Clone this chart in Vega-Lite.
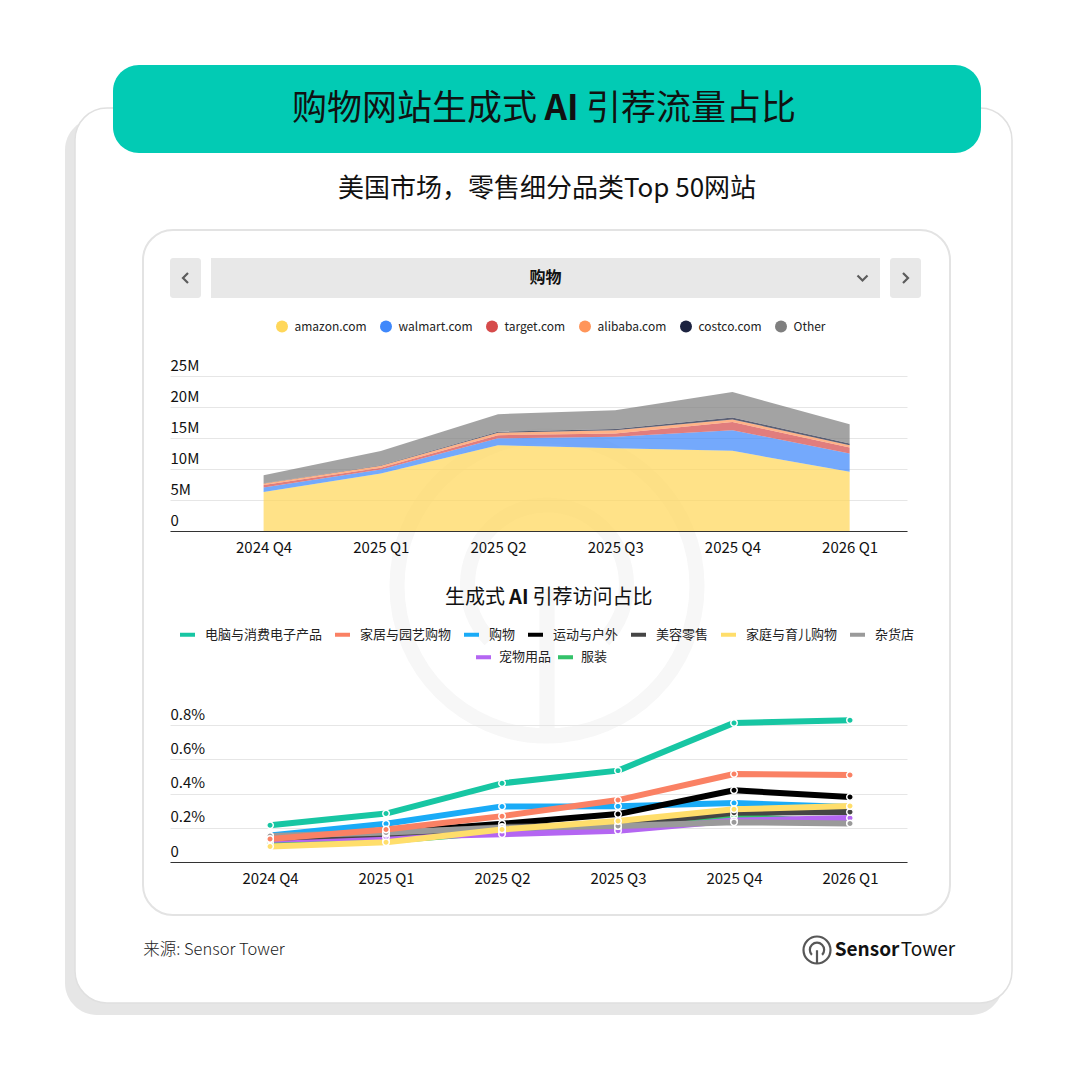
{
  "$schema": "https://vega.github.io/schema/vega-lite/v6.json",
  "background": "white",
  "padding": {"left": 65, "top": 65, "right": 0, "bottom": 0},
  "spacing": 0,
  "bounds": "flush",
  "config": {
    "font": "Noto Sans CJK SC",
    "view": {"stroke": null},
    "axis": {"labelFont": "Noto Sans CJK SC", "labelColor": "#111", "title": null},
    "legend": {"labelFont": "Noto Sans CJK SC", "labelColor": "#222"}
  },
  "datasets": {
    "sites": [
      {"q": "2024 Q4", "site": "amazon.com", "v": 6.3},
      {"q": "2024 Q4", "site": "walmart.com", "v": 0.7},
      {"q": "2024 Q4", "site": "target.com", "v": 0.4},
      {"q": "2024 Q4", "site": "alibaba.com", "v": 0.25},
      {"q": "2024 Q4", "site": "costco.com", "v": 0.05},
      {"q": "2024 Q4", "site": "Other", "v": 1.3},
      {"q": "2025 Q1", "site": "amazon.com", "v": 9.27},
      {"q": "2025 Q1", "site": "walmart.com", "v": 0.65},
      {"q": "2025 Q1", "site": "target.com", "v": 0.3},
      {"q": "2025 Q1", "site": "alibaba.com", "v": 0.3},
      {"q": "2025 Q1", "site": "costco.com", "v": 0.1},
      {"q": "2025 Q1", "site": "Other", "v": 2.3},
      {"q": "2025 Q2", "site": "amazon.com", "v": 13.85},
      {"q": "2025 Q2", "site": "walmart.com", "v": 1.1},
      {"q": "2025 Q2", "site": "target.com", "v": 0.5},
      {"q": "2025 Q2", "site": "alibaba.com", "v": 0.4},
      {"q": "2025 Q2", "site": "costco.com", "v": 0.15},
      {"q": "2025 Q2", "site": "Other", "v": 2.85},
      {"q": "2025 Q3", "site": "amazon.com", "v": 13.36},
      {"q": "2025 Q3", "site": "walmart.com", "v": 1.83},
      {"q": "2025 Q3", "site": "target.com", "v": 0.54},
      {"q": "2025 Q3", "site": "alibaba.com", "v": 0.54},
      {"q": "2025 Q3", "site": "costco.com", "v": 0.2},
      {"q": "2025 Q3", "site": "Other", "v": 3.0},
      {"q": "2025 Q4", "site": "amazon.com", "v": 12.93},
      {"q": "2025 Q4", "site": "walmart.com", "v": 3.34},
      {"q": "2025 Q4", "site": "target.com", "v": 1.3},
      {"q": "2025 Q4", "site": "alibaba.com", "v": 0.43},
      {"q": "2025 Q4", "site": "costco.com", "v": 0.3},
      {"q": "2025 Q4", "site": "Other", "v": 4.1},
      {"q": "2026 Q1", "site": "amazon.com", "v": 9.54},
      {"q": "2026 Q1", "site": "walmart.com", "v": 2.96},
      {"q": "2026 Q1", "site": "target.com", "v": 0.97},
      {"q": "2026 Q1", "site": "alibaba.com", "v": 0.38},
      {"q": "2026 Q1", "site": "costco.com", "v": 0.27},
      {"q": "2026 Q1", "site": "Other", "v": 3.1}
    ],
    "cats": [
      {"q": "2024 Q4", "cat": "服装", "p": 0.112},
      {"q": "2024 Q4", "cat": "宠物用品", "p": 0.13},
      {"q": "2024 Q4", "cat": "购物", "p": 0.155},
      {"q": "2024 Q4", "cat": "运动与户外", "p": 0.145},
      {"q": "2024 Q4", "cat": "美容零售", "p": 0.14},
      {"q": "2024 Q4", "cat": "杂货店", "p": 0.152},
      {"q": "2024 Q4", "cat": "家庭与育儿购物", "p": 0.09},
      {"q": "2024 Q4", "cat": "家居与园艺购物", "p": 0.135},
      {"q": "2024 Q4", "cat": "电脑与消费电子产品", "p": 0.215},
      {"q": "2025 Q1", "cat": "服装", "p": 0.123},
      {"q": "2025 Q1", "cat": "宠物用品", "p": 0.146},
      {"q": "2025 Q1", "cat": "购物", "p": 0.224},
      {"q": "2025 Q1", "cat": "运动与户外", "p": 0.172},
      {"q": "2025 Q1", "cat": "美容零售", "p": 0.165},
      {"q": "2025 Q1", "cat": "杂货店", "p": 0.172},
      {"q": "2025 Q1", "cat": "家庭与育儿购物", "p": 0.115},
      {"q": "2025 Q1", "cat": "家居与园艺购物", "p": 0.19},
      {"q": "2025 Q1", "cat": "电脑与消费电子产品", "p": 0.283},
      {"q": "2025 Q2", "cat": "服装", "p": 0.176},
      {"q": "2025 Q2", "cat": "宠物用品", "p": 0.162},
      {"q": "2025 Q2", "cat": "购物", "p": 0.325},
      {"q": "2025 Q2", "cat": "运动与户外", "p": 0.224},
      {"q": "2025 Q2", "cat": "美容零售", "p": 0.205},
      {"q": "2025 Q2", "cat": "杂货店", "p": 0.2},
      {"q": "2025 Q2", "cat": "家庭与育儿购物", "p": 0.19},
      {"q": "2025 Q2", "cat": "家居与园艺购物", "p": 0.268},
      {"q": "2025 Q2", "cat": "电脑与消费电子产品", "p": 0.46},
      {"q": "2025 Q3", "cat": "服装", "p": 0.2},
      {"q": "2025 Q3", "cat": "宠物用品", "p": 0.182},
      {"q": "2025 Q3", "cat": "购物", "p": 0.326},
      {"q": "2025 Q3", "cat": "运动与户外", "p": 0.28},
      {"q": "2025 Q3", "cat": "美容零售", "p": 0.215},
      {"q": "2025 Q3", "cat": "杂货店", "p": 0.21},
      {"q": "2025 Q3", "cat": "家庭与育儿购物", "p": 0.24},
      {"q": "2025 Q3", "cat": "家居与园艺购物", "p": 0.362},
      {"q": "2025 Q3", "cat": "电脑与消费电子产品", "p": 0.534},
      {"q": "2025 Q4", "cat": "服装", "p": 0.269},
      {"q": "2025 Q4", "cat": "宠物用品", "p": 0.242},
      {"q": "2025 Q4", "cat": "购物", "p": 0.345},
      {"q": "2025 Q4", "cat": "运动与户外", "p": 0.419},
      {"q": "2025 Q4", "cat": "美容零售", "p": 0.288},
      {"q": "2025 Q4", "cat": "杂货店", "p": 0.232},
      {"q": "2025 Q4", "cat": "家庭与育儿购物", "p": 0.308},
      {"q": "2025 Q4", "cat": "家居与园艺购物", "p": 0.514},
      {"q": "2025 Q4", "cat": "电脑与消费电子产品", "p": 0.813},
      {"q": "2026 Q1", "cat": "服装", "p": 0.228},
      {"q": "2026 Q1", "cat": "宠物用品", "p": 0.257},
      {"q": "2026 Q1", "cat": "购物", "p": 0.322},
      {"q": "2026 Q1", "cat": "运动与户外", "p": 0.38},
      {"q": "2026 Q1", "cat": "美容零售", "p": 0.292},
      {"q": "2026 Q1", "cat": "杂货店", "p": 0.225},
      {"q": "2026 Q1", "cat": "家庭与育儿购物", "p": 0.327},
      {"q": "2026 Q1", "cat": "家居与园艺购物", "p": 0.508},
      {"q": "2026 Q1", "cat": "电脑与消费电子产品", "p": 0.829}
    ]
  },
  "vconcat": [
    {
      "spacing": 0,
      "bounds": "flush",
      "vconcat": [
        {"width": 1, "height": 53, "data": {"values": []}, "mark": "point"},
        {
          "width": 938,
          "height": 897,
          "view": {"fill": "#E6E6E6", "cornerRadius": 32},
          "data": {"values": []},
          "mark": "point"
        }
      ]
    },
    {
      "spacing": 0,
      "bounds": "flush",
      "vconcat": [
        {"width": 1, "height": 43, "data": {"values": []}, "mark": "point"},
        {
          "spacing": 0,
          "bounds": "flush",
          "hconcat": [
            {"width": 10, "height": 1, "data": {"values": []}, "mark": "point"},
            {
              "width": 937,
              "height": 895,
              "view": {"fill": "#FFFFFF", "stroke": "#E0E0E0", "strokeWidth": 1.5, "cornerRadius": 32},
              "data": {"values": []},
              "mark": "point"
            }
          ]
        }
      ]
    },
    {
      "spacing": 0,
      "bounds": "flush",
      "vconcat": [
        {"width": 1, "height": 165, "data": {"values": []}, "mark": "point"},
        {
          "spacing": 0,
          "bounds": "flush",
          "hconcat": [
            {"width": 78, "height": 1, "data": {"values": []}, "mark": "point"},
            {
              "width": 807,
              "height": 685,
              "view": {"fill": "#FFFFFF", "stroke": "#E3E3E3", "strokeWidth": 2, "cornerRadius": 30},
              "data": {"values": []},
              "mark": "point"
            }
          ]
        }
      ]
    },
    {
      "spacing": 0,
      "bounds": "flush",
      "vconcat": [
        {"width": 1, "height": 351, "data": {"values": []}, "mark": "point"},
        {
          "spacing": 0,
          "bounds": "flush",
          "hconcat": [
            {"width": 312, "height": 1, "data": {"values": []}, "mark": "point"},
            {
              "width": 340,
              "height": 340,
              "data": {"values": [{"k": "watermark"}]},
              "mark": {
                "type": "point",
                "shape": "M-1,0A1,1 0 1,1 1,0A1,1 0 1,1 -1,0M-0.38,0.36A0.53,0.53 0 1,1 0.38,0.36M0,0.02V1",
                "size": 90000,
                "filled": false,
                "strokeWidth": 15,
                "color": "#F4F4F4"
              }
            }
          ]
        }
      ]
    },
    {
      "spacing": 0,
      "bounds": "flush",
      "hconcat": [
        {"width": 48, "height": 1, "data": {"values": []}, "mark": "point"},
        {
          "width": 868,
          "height": 88,
          "view": {"fill": "#02CBB4", "cornerRadius": 26, "stroke": null},
          "data": {"values": [{"k": "title"}]},
          "layer": [
            {"mark": {"type": "text", "text": "购物网站生成式", "align": "right", "dx": -10, "fontSize": 35, "color": "#111"}},
            {"mark": {"type": "text", "text": "AI", "align": "center", "dx": 14.5, "fontSize": 35, "fontWeight": "bold", "color": "#111"}},
            {"mark": {"type": "text", "text": "引荐流量占比", "align": "left", "dx": 39, "fontSize": 35, "color": "#111"}}
          ]
        }
      ]
    },
    {"width": 1, "height": 88, "data": {"values": []}, "mark": "point"},
    {
      "spacing": 0,
      "bounds": "flush",
      "hconcat": [
        {"width": 48, "height": 1, "data": {"values": []}, "mark": "point"},
        {
          "width": 868,
          "height": 105,
          "data": {"values": [{"t": "美国市场，零售细分品类Top 50网站"}]},
          "mark": {"type": "text", "fontSize": 26, "dy": -17, "color": "#111"},
          "encoding": {"text": {"field": "t"}}
        }
      ]
    },
    {"width": 1, "height": 105, "data": {"values": []}, "mark": "point"},
    {
      "spacing": 0,
      "bounds": "flush",
      "hconcat": [
        {"width": 105, "height": 40, "data": {"values": []}, "mark": "point"},
        {
          "width": 31,
          "height": 40,
          "view": {"fill": "#E8E8E8", "cornerRadius": 3},
          "data": {"values": [{"k": "prev"}]},
          "mark": {"type": "point", "shape": "M0.5,-1L-0.5,0L0.5,1", "size": 100, "filled": false, "strokeWidth": 2.2, "color": "#222"}
        },
        {"width": 10, "height": 40, "data": {"values": []}, "mark": "point"},
        {
          "width": 634,
          "height": 40,
          "view": {"fill": "#E8E8E8"},
          "data": {"values": [{"t": "购物"}]},
          "mark": {"type": "text", "fontSize": 16, "fontWeight": "bold", "dx": 17.5, "color": "#111"},
          "encoding": {"text": {"field": "t"}}
        },
        {
          "width": 35,
          "height": 40,
          "view": {"fill": "#E8E8E8"},
          "data": {"values": [{"k": "open"}]},
          "mark": {"type": "point", "shape": "M-1,-0.5L0,0.5L1,-0.5", "size": 100, "filled": false, "strokeWidth": 2.2, "color": "#222"}
        },
        {"width": 10, "height": 40, "data": {"values": []}, "mark": "point"},
        {
          "width": 31,
          "height": 40,
          "view": {"fill": "#E8E8E8", "cornerRadius": 3},
          "data": {"values": [{"k": "next"}]},
          "mark": {"type": "point", "shape": "M-0.5,-1L0.5,0L-0.5,1", "size": 100, "filled": false, "strokeWidth": 2.2, "color": "#222"}
        }
      ]
    },
    {"width": 1, "height": 118, "data": {"values": []}, "mark": "point"},
    {
      "spacing": 0,
      "bounds": "flush",
      "hconcat": [
        {"width": 105, "height": 1, "data": {"values": []}, "mark": "point"},
        {
          "width": 737,
          "height": 155,
          "data": {"name": "sites"},
          "transform": [
            {"calculate": "indexof(['amazon.com','walmart.com','target.com','alibaba.com','costco.com','Other'], datum.site)", "as": "k"}
          ],
          "mark": {"type": "area", "opacity": 0.72, "interpolate": "linear"},
          "encoding": {
            "x": {
              "field": "q",
              "type": "ordinal",
              "scale": {"type": "point", "padding": 0.644, "align": 0.62},
              "axis": {"labelAngle": 0, "ticks": false, "domainColor": "#333", "labelFontSize": 15, "labelPadding": 9, "grid": false}
            },
            "y": {
              "field": "v",
              "type": "quantitative",
              "stack": "zero",
              "scale": {"domain": [0, 25], "nice": false},
              "axis": {
                "values": [0, 5, 10, 15, 20, 25],
                "labelExpr": "datum.value == 0 ? '0' : datum.value + 'M'",
                "domain": false,
                "ticks": false,
                "labelAlign": "left",
                "labelBaseline": "bottom",
                "labelPadding": 0,
                "labelOffset": -3,
                "labelFontSize": 15,
                "gridColor": "#E6E6E6"
              }
            },
            "order": {"field": "k", "type": "quantitative"},
            "color": {
              "field": "site",
              "type": "nominal",
              "scale": {
                "domain": ["amazon.com", "walmart.com", "target.com", "alibaba.com", "costco.com", "Other"],
                "range": ["#FFD75A", "#3F88FB", "#D64B4B", "#FF955A", "#1C2340", "#7F7F7F"]
              },
              "legend": {
                "title": null,
                "orient": "none",
                "direction": "horizontal",
                "legendX": 210,
                "legendY": 254.5,
                "symbolType": "circle",
                "symbolSize": 144,
                "symbolOpacity": 1,
                "labelFontSize": 12,
                "labelOffset": 5.5,
                "columnPadding": 12
              }
            }
          }
        }
      ]
    },
    {"width": 1, "height": 155, "data": {"values": []}, "mark": "point"},
    {
      "spacing": 0,
      "bounds": "flush",
      "hconcat": [
        {"width": 48, "height": 1, "data": {"values": []}, "mark": "point"},
        {
          "width": 868,
          "height": 177,
          "data": {"values": [{"k": "subtitle"}]},
          "layer": [
            {"mark": {"type": "text", "text": "生成式", "align": "right", "dx": -42, "dy": -21.5, "fontSize": 20, "color": "#111"}},
            {"mark": {"type": "text", "text": "AI", "align": "center", "dx": -28.2, "dy": -21.5, "fontSize": 20, "fontWeight": "bold", "color": "#111"}},
            {"mark": {"type": "text", "text": "引荐访问占比", "align": "left", "dx": -14.4, "dy": -21.5, "fontSize": 20, "color": "#111"}}
          ]
        }
      ]
    },
    {"width": 1, "height": 177, "data": {"values": []}, "mark": "point"},
    {
      "spacing": 0,
      "bounds": "flush",
      "hconcat": [
        {"width": 105, "height": 1, "data": {"values": []}, "mark": "point"},
        {
          "width": 737,
          "height": 154,
          "data": {"name": "cats"},
          "encoding": {
            "x": {
              "field": "q",
              "type": "ordinal",
              "scale": {"type": "point", "padding": 0.677, "align": 0.637},
              "axis": {"labelAngle": 0, "ticks": false, "domainColor": "#333", "labelFontSize": 15, "labelPadding": 9, "grid": false}
            },
            "y": {
              "field": "p",
              "type": "quantitative",
              "scale": {"domain": [0, 0.9], "nice": false},
              "axis": {
                "values": [0, 0.2, 0.4, 0.6, 0.8],
                "labelExpr": "datum.value == 0 ? '0' : format(datum.value, '.1f') + '%'",
                "domain": false,
                "ticks": false,
                "labelAlign": "left",
                "labelBaseline": "bottom",
                "labelPadding": 0,
                "labelOffset": -3,
                "labelFontSize": 15,
                "gridColor": "#E6E6E6"
              }
            }
          },
          "layer": [
            {
              "mark": {"type": "line", "strokeWidth": 6, "strokeJoin": "round"},
              "encoding": {
                "stroke": {
                  "field": "cat",
                  "type": "nominal",
                  "scale": {
                    "domain": ["电脑与消费电子产品", "家居与园艺购物", "购物", "运动与户外", "美容零售", "家庭与育儿购物", "杂货店", "宠物用品", "服装"],
                    "range": ["#17C6A3", "#FA8164", "#1AABF7", "#000000", "#454545", "#FFDE6B", "#9A9A9A", "#B466F2", "#34C26A"]
                  },
                  "legend": {
                    "values": ["电脑与消费电子产品", "家居与园艺购物", "购物", "运动与户外", "美容零售", "家庭与育儿购物", "杂货店"],
                    "title": null,
                    "orient": "none",
                    "direction": "horizontal",
                    "legendX": 113,
                    "legendY": 560,
                    "symbolType": "stroke",
                    "symbolSize": 225,
                    "symbolStrokeWidth": 4,
                    "labelFontSize": 13,
                    "labelOffset": 8,
                    "columnPadding": 4
                  }
                }
              }
            },
            {
              "mark": {"type": "point", "filled": true, "size": 42, "stroke": "white", "strokeWidth": 1.5, "opacity": 1},
              "encoding": {
                "fill": {
                  "field": "cat",
                  "type": "nominal",
                  "scale": {
                    "domain": ["宠物用品", "服装", "电脑与消费电子产品", "家居与园艺购物", "购物", "运动与户外", "美容零售", "家庭与育儿购物", "杂货店"],
                    "range": ["#B466F2", "#34C26A", "#17C6A3", "#FA8164", "#1AABF7", "#000000", "#454545", "#FFDE6B", "#9A9A9A"]
                  },
                  "legend": {
                    "values": ["宠物用品", "服装"],
                    "title": null,
                    "orient": "none",
                    "direction": "horizontal",
                    "legendX": 411,
                    "legendY": 584.5,
                    "symbolType": "M-1,-0.27H1V0.27H-1Z",
                    "symbolSize": 225,
                    "symbolStrokeWidth": 0,
                    "labelFontSize": 13,
                    "labelOffset": 8,
                    "columnPadding": 6
                  }
                }
              }
            }
          ]
        }
      ]
    },
    {"width": 1, "height": 222, "data": {"values": []}, "mark": "point"},
    {
      "spacing": 0,
      "bounds": "flush",
      "hconcat": [
        {"width": 78, "height": 40, "data": {"values": []}, "mark": "point"},
        {
          "width": 142,
          "height": 40,
          "data": {"values": [{"t": "来源: Sensor Tower"}]},
          "mark": {"type": "text", "fontSize": 16.5, "fontWeight": 300, "color": "#222"},
          "encoding": {"text": {"field": "t"}}
        },
        {"width": 517, "height": 40, "data": {"values": []}, "mark": "point"},
        {
          "width": 30,
          "height": 40,
          "data": {"values": [{"k": "logo"}]},
          "mark": {
            "type": "point",
            "shape": "M-1,0A1,1 0 1,1 1,0A1,1 0 1,1 -1,0M-0.38,0.36A0.53,0.53 0 1,1 0.38,0.36M0,0.02V1",
            "size": 729,
            "filled": false,
            "strokeWidth": 2.2,
            "color": "#111"
          }
        },
        {"width": 2, "height": 40, "data": {"values": []}, "mark": "point"},
        {
          "width": 66,
          "height": 40,
          "data": {"values": [{"t": "Sensor"}]},
          "mark": {"type": "text", "fontSize": 19, "fontWeight": "bold", "color": "#111"},
          "encoding": {"text": {"field": "t"}}
        },
        {
          "width": 56,
          "height": 40,
          "data": {"values": [{"t": "Tower"}]},
          "mark": {"type": "text", "fontSize": 19, "color": "#111"},
          "encoding": {"text": {"field": "t"}}
        }
      ]
    }
  ]
}
